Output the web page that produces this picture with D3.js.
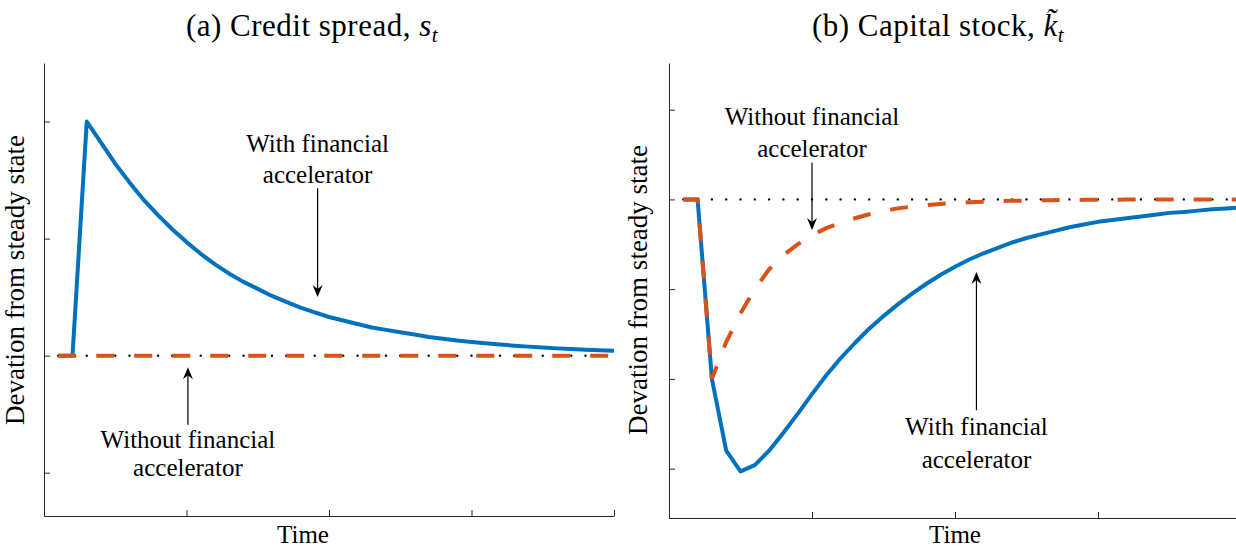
<!DOCTYPE html>
<html>
<head>
<meta charset="utf-8">
<script src="https://cdn.jsdelivr.net/npm/d3@7"></script>
<style>
  body { margin: 0; background: #fff; }
  svg { display: block; }
  text { font-family: "Liberation Serif", "Times New Roman", serif; fill: #000; }
</style>
</head>
<body>
<div id="svg-container"></div>
<script>
// ---------------- data ----------------
const periods = d3.range(1, 41); // t = 1..40

// (a) credit spread, with financial accelerator
const spreadWith = [0, 0, 2.00, 1.82, 1.64, 1.48, 1.33, 1.20, 1.08, 0.97,
  0.87, 0.78, 0.70, 0.63, 0.57, 0.51, 0.46, 0.41, 0.37, 0.33,
  0.30, 0.27, 0.24, 0.22, 0.20, 0.18, 0.16, 0.145, 0.13, 0.117,
  0.105, 0.095, 0.085, 0.077, 0.069, 0.062, 0.056, 0.050, 0.046, 0.042];
// (a) without accelerator: spread stays at steady state
const spreadWithout = periods.map(() => 0);

// (b) capital stock
const capitalWith = [0, 0, -2.00, -2.80, -3.03, -2.96, -2.80, -2.60, -2.39, -2.17,
  -1.96, -1.77, -1.60, -1.44, -1.30, -1.17, -1.05, -0.94, -0.84, -0.75,
  -0.67, -0.60, -0.54, -0.48, -0.43, -0.39, -0.35, -0.31, -0.28, -0.25,
  -0.23, -0.21, -0.19, -0.17, -0.15, -0.14, -0.125, -0.11, -0.10, -0.09];
const capitalWithout = [0, 0, -2.00, -1.59, -1.27, -1.00, -0.78, -0.62, -0.50, -0.40,
  -0.32, -0.26, -0.21, -0.165, -0.13, -0.10, -0.08, -0.065, -0.05, -0.04,
  -0.032, -0.026, -0.02, -0.016, -0.013, -0.01, -0.008, -0.006, -0.005, -0.004,
  -0.003, -0.002, -0.002, -0.001, -0.001, 0, 0, 0, 0, 0];

const xTicks = [0, 10, 20, 30, 40];
const yTicksA = [-1, 0, 1, 2];
const yTicksB = [-3, -2, -1, 0, 1];

// annotations in data units: [t, value]
const notesA = [
  { lines: ["With financial", "accelerator"], at: [19.2, 1.74], step: -0.265, from: [19.2, 1.43], to: [19.2, 0.50] },
  { lines: ["Without financial", "accelerator"], at: [10.1, -0.79], step: -0.24, from: [10.1, -0.59], to: [10.1, -0.10] }
];
const notesB = [
  { lines: ["Without financial", "accelerator"], at: [10.0, 0.83], step: -0.36, from: [10.0, 0.41], to: [10.0, -0.34] },
  { lines: ["With financial", "accelerator"], at: [21.5, -2.63], step: -0.36, from: [21.5, -2.35], to: [21.5, -0.81] }
];

// ---------------- init ----------------
const width = 1236, height = 550;
const svg = d3.select("#svg-container").append("svg")
  .attr("width", width).attr("height", height);

const blue = "#0072BD", orange = "#D95319", axisColor = "#262626";

const panels = [
  { xr: [44, 614], yr: [516, 63], yd: [-1.37, 2.5], yTicks: yTicksA,
    withS: spreadWith, withoutS: spreadWithout, notes: notesA,
    title: ["(a) Credit spread, ", "s", "t", false], titleX: 312, timeX: 303, ylabX: 24, ylabY: 280 },
  { xr: [669, 1241], yr: [518, 63], yd: [-3.55, 1.52], yTicks: yTicksB,
    withS: capitalWith, withoutS: capitalWithout, notes: notesB,
    title: ["(b) Capital stock, ", "k", "t", true], titleX: 938, timeX: 955, ylabX: 647, ylabY: 290 }
];

panels.forEach((p) => {
  const x = d3.scaleLinear().domain([0, 40]).range(p.xr);
  const y = d3.scaleLinear().domain(p.yd).range(p.yr);
  const g = svg.append("g");

  // axes
  g.append("g")
    .attr("transform", `translate(0,${p.yr[0]})`)
    .call(d3.axisBottom(x).tickValues(xTicks).tickSizeInner(-6).tickSizeOuter(0).tickFormat(""))
    .call((a) => a.selectAll("line,path").attr("stroke", axisColor));
  g.append("g")
    .attr("transform", `translate(${p.xr[0]},0)`)
    .call(d3.axisLeft(y).tickValues(p.yTicks).tickSizeInner(-6).tickSizeOuter(0).tickFormat(""))
    .call((a) => a.selectAll("line,path").attr("stroke", axisColor));

  // steady state: black dotted line, one dot per period
  const step = x(1) - x(0);
  g.append("line")
    .attr("x1", x(1)).attr("x2", x(40))
    .attr("y1", y(0)).attr("y2", y(0))
    .attr("stroke", "#000").attr("stroke-width", 2.4)
    .attr("stroke-dasharray", `0,${step}`)
    .attr("stroke-linecap", "round");

  const line = d3.line()
    .x((d, i) => x(periods[i]))
    .y((d) => y(d));

  g.append("path").datum(p.withS)
    .attr("d", line).attr("fill", "none")
    .attr("stroke", blue).attr("stroke-width", 4)
    .attr("stroke-linejoin", "round");

  g.append("path").datum(p.withoutS)
    .attr("d", line).attr("fill", "none")
    .attr("stroke", orange).attr("stroke-width", 4)
    .attr("stroke-dasharray", "18,20");

  // annotations
  p.notes.forEach((n) => {
    n.lines.forEach((s, i) => {
      g.append("text")
        .attr("x", x(n.at[0]))
        .attr("y", y(n.at[1] + i * n.step))
        .attr("text-anchor", "middle")
        .style("font-size", "25px")
        .text(s);
    });
    const x0 = x(n.from[0]), y0 = y(n.from[1]);
    const x1 = x(n.to[0]), y1 = y(n.to[1]);
    const dir = y1 > y0 ? 1 : -1;
    g.append("line")
      .attr("x1", x0).attr("y1", y0).attr("x2", x1).attr("y2", y1 - dir * 6)
      .attr("stroke", "#000").attr("stroke-width", 1.2);
    g.append("path")
      .attr("d", `M${x1},${y1} L${x1 - 5},${y1 - dir * 12} L${x1},${y1 - dir * 8} L${x1 + 5},${y1 - dir * 12} Z`)
      .attr("fill", "#000");
  });

  // labels
  g.append("text")
    .attr("x", p.timeX).attr("y", 543)
    .attr("text-anchor", "middle")
    .style("font-size", "25px")
    .text("Time");

  g.append("text")
    .attr("transform", `translate(${p.ylabX},${p.ylabY}) rotate(-90)`)
    .attr("text-anchor", "middle")
    .style("font-size", "27px")
    .text("Devation from steady state");

  const t = g.append("text")
    .attr("x", p.titleX).attr("y", 36)
    .attr("text-anchor", "middle")
    .style("font-size", "31px")
    .style("letter-spacing", "0.5px");
  t.append("tspan").text(p.title[0]);
  t.append("tspan").style("font-style", "italic").text(p.title[3] ? p.title[1] + "\u0303" : p.title[1]);
  t.append("tspan").style("font-style", "italic").style("font-size", "21px")
    .attr("dy", 6).text(p.title[2]);
});
</script>
</body>
</html>
